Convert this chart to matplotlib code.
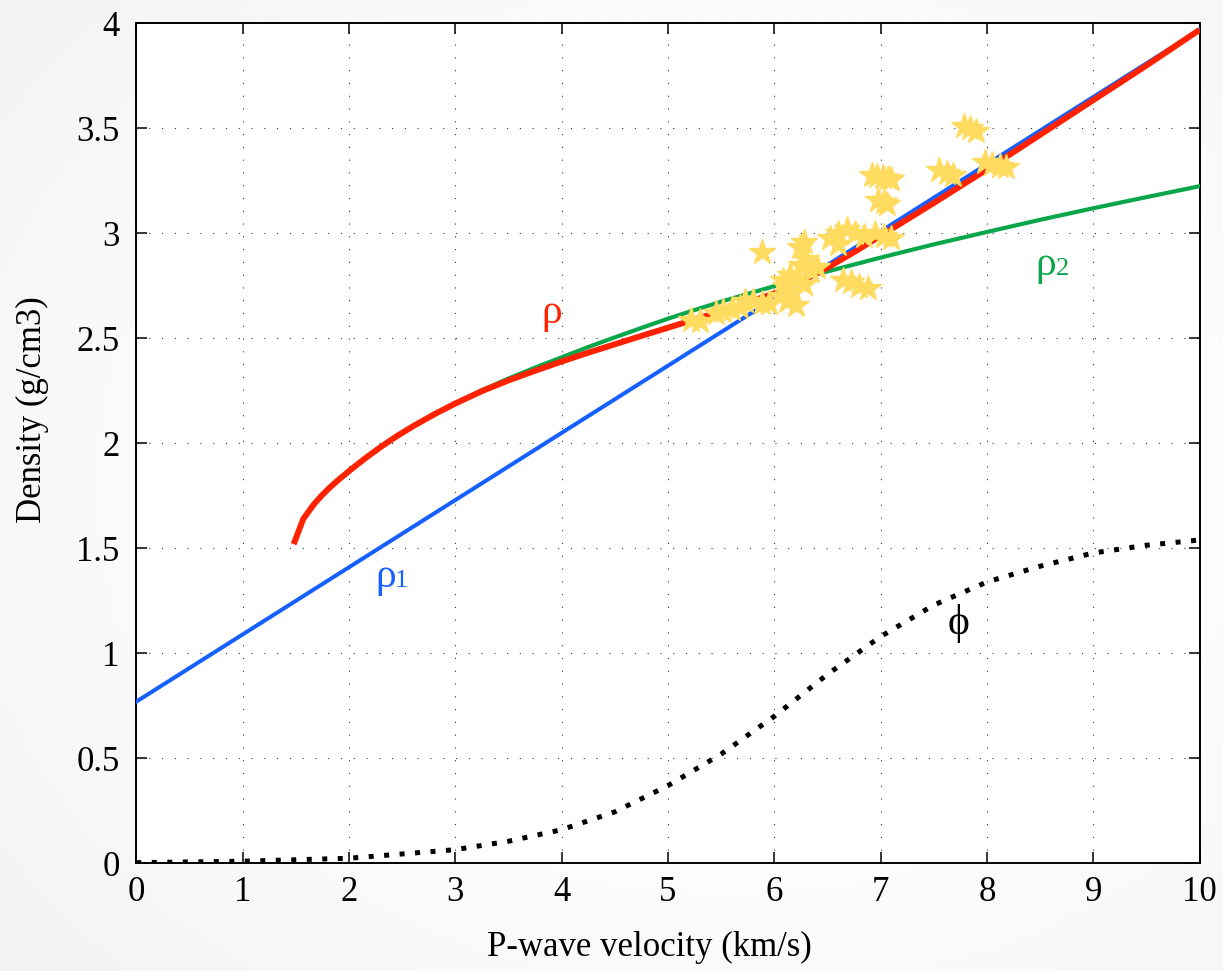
import numpy as np
import matplotlib
matplotlib.use("Agg")
import matplotlib.pyplot as plt

# ---------------- data ----------------
rho1_x = [0.0, 10.0]
rho1_y = [0.77, 3.97]

rho2_x = [3.0, 3.25, 3.5, 3.75, 4.0, 4.25, 4.5, 4.75, 5.0, 5.25, 5.5, 6.0, 6.5, 7.0, 7.5, 8.0, 8.5, 9.0, 9.5, 10.0]
rho2_y = [2.191, 2.253, 2.309, 2.361, 2.41, 2.459, 2.505, 2.55, 2.594, 2.635, 2.675,
          2.749, 2.819, 2.885, 2.948, 3.007, 3.065, 3.12, 3.173, 3.225]

rho_x = [1.48, 1.57, 1.67, 1.75, 1.82, 1.9, 2.0, 2.15, 2.3, 2.45, 2.6, 2.8, 3.0, 3.25, 3.5, 3.75,
         4.0, 4.25, 4.5, 4.75, 5.0, 5.25, 5.5, 5.75, 6.0, 6.25, 6.5, 6.75, 7.0, 7.5, 8.0, 8.5, 9.0, 9.5, 10.0]
rho_y = [1.52, 1.64, 1.71, 1.755, 1.79, 1.826, 1.868, 1.928, 1.9835, 2.0345, 2.081, 2.138, 2.190,
         2.249, 2.300, 2.346, 2.390, 2.432, 2.472, 2.512, 2.551, 2.590, 2.630, 2.671, 2.715,
         2.770, 2.837, 2.911, 2.989, 3.145, 3.305, 3.47, 3.635, 3.80, 3.97]

phi_x = [0, 1, 2, 3, 3.5, 4, 4.5, 5, 5.5, 6, 6.5, 7, 7.5, 8, 8.5, 9, 9.5, 10]
phi_y = [0.003, 0.010, 0.024, 0.065, 0.105, 0.16, 0.245, 0.37, 0.52, 0.70, 0.90, 1.08, 1.23, 1.34, 1.415, 1.478, 1.515, 1.54]

star_x = [6.92, 6.97, 7.02, 7.07, 7.10,
          6.98, 7.03, 7.06,
          7.55, 7.62, 7.68,
          7.78, 7.84, 7.90,
          7.98, 8.05, 8.12, 8.18,
          5.88,
          6.24, 6.28,
          6.05, 6.10, 6.15, 6.12, 6.18, 6.22, 6.25, 6.30, 6.35, 6.20, 6.08, 6.28, 6.40,
          6.52, 6.60, 6.68, 6.76, 6.84, 6.60,
          6.95, 7.03, 7.10,
          6.65, 6.72, 6.80, 6.88,
          5.22, 5.30,
          5.45, 5.52, 5.60, 5.68,
          5.72, 5.80, 5.88, 5.95]
star_y = [3.28, 3.275, 3.27, 3.265, 3.26,
          3.16, 3.15, 3.14,
          3.30, 3.29, 3.28,
          3.51, 3.50, 3.49,
          3.34, 3.33, 3.32, 3.315,
          2.91,
          2.935, 2.96,
          2.70, 2.75, 2.80, 2.68, 2.72, 2.78, 2.85, 2.88, 2.82, 2.66, 2.78, 2.76, 2.84,
          2.98, 3.00, 3.02, 3.00, 2.99, 2.95,
          3.00, 2.99, 2.98,
          2.78, 2.77, 2.75, 2.74,
          2.59, 2.585,
          2.62, 2.63, 2.64, 2.65,
          2.68, 2.68, 2.67, 2.67]

x_ticks = [0, 1, 2, 3, 4, 5, 6, 7, 8, 9, 10]
y_ticks = [0, 0.5, 1, 1.5, 2, 2.5, 3, 3.5, 4]
y_tick_labels = ["0", "0.5", "1", "1.5", "2", "2.5", "3", "3.5", "4"]

# ---------------- style ----------------
SERIF = ["Liberation Serif", "DejaVu Serif"]
plt.rcParams["font.family"] = SERIF

W, H = 1223, 971
fig = plt.figure(figsize=(W / 100, H / 100), dpi=100)

# soft background gradient
bg = fig.add_axes([0, 0, 1, 1], zorder=-10)
yy, xx = np.mgrid[0:1:200j, 0:1:250j]
r2 = ((xx - 0.6) / 0.8) ** 2 + ((yy - 0.5) / 0.8) ** 2
img = np.clip(1.0 - 0.055 * r2, 0.92, 1.0)
bg.imshow(img, cmap="gray", vmin=0, vmax=1, aspect="auto", extent=[0, 1, 0, 1])
bg.set_axis_off()

left, right = 136.3 / W, 1199.6 / W
bottom, top = 1 - 863.3 / H, 1 - 23.5 / H
ax = fig.add_axes([left, bottom, right - left, top - bottom])
ax.set_facecolor("white")

blue = "#1560FF"
red = "#FF2200"
green = "#0AA64B"
star_col = "#FFDB5F"

ax.plot(rho2_x, rho2_y, color=green, lw=3.0, zorder=3)
ax.plot(rho1_x, rho1_y, color=blue, lw=2.9, zorder=4)
ax.plot(rho_x, rho_y, color=red, lw=4.3, zorder=5, solid_capstyle="butt",
        solid_joinstyle="round")
ax.plot(phi_x, phi_y, color="black", lw=3.6, linestyle=(0, (1, 2.1)), zorder=5)
ax.plot(star_x, star_y, linestyle="none", marker="*", markersize=19,
        color=star_col, markeredgecolor=star_col, zorder=6)

ax.set_xlim(0, 10)
ax.set_ylim(0, 4)
ax.set_xticks(x_ticks)
ax.set_xticklabels([str(t) for t in x_ticks])
ax.set_yticks(y_ticks)
ax.set_yticklabels(y_tick_labels)

ax.grid(True, color="#333333", linestyle=(0, (1, 10.5)), linewidth=0.8)
ax.tick_params(direction="in", length=8, width=1.1, top=True, right=True,
               labelsize=25, pad=9, colors="black")
ax.tick_params(axis="y", pad=12)
for s in ax.spines.values():
    s.set_linewidth(1.4)
    s.set_color("black")

ax.set_xlabel("P-wave velocity (km/s)", fontsize=25, va="center")
ax.set_ylabel("Density (g/cm3)", fontsize=25, va="center")
ax.xaxis.set_label_coords(0.483, -0.1)
ax.yaxis.set_label_coords(-0.098, 0.54)

# annotations
ax.text(3.81, 2.573, "ρ", color=red, fontsize=30, ha="left", va="baseline")
ax.text(2.245, 1.317, "ρ", color=blue, fontsize=30, ha="left", va="baseline")
ax.annotate("1", xy=(2.245, 1.317), xytext=(14.5, 0), textcoords="offset points",
            color=blue, fontsize=19, ha="left", va="baseline")
ax.text(8.455, 2.80, "ρ", color=green, fontsize=30, ha="left", va="baseline")
ax.annotate("2", xy=(8.455, 2.80), xytext=(14.5, 0), textcoords="offset points",
            color=green, fontsize=19, ha="left", va="baseline")
ax.text(7.733, 1.143, "ϕ", color="black", fontsize=30, ha="center", va="center")

fig.savefig("out.png", dpi=100)
